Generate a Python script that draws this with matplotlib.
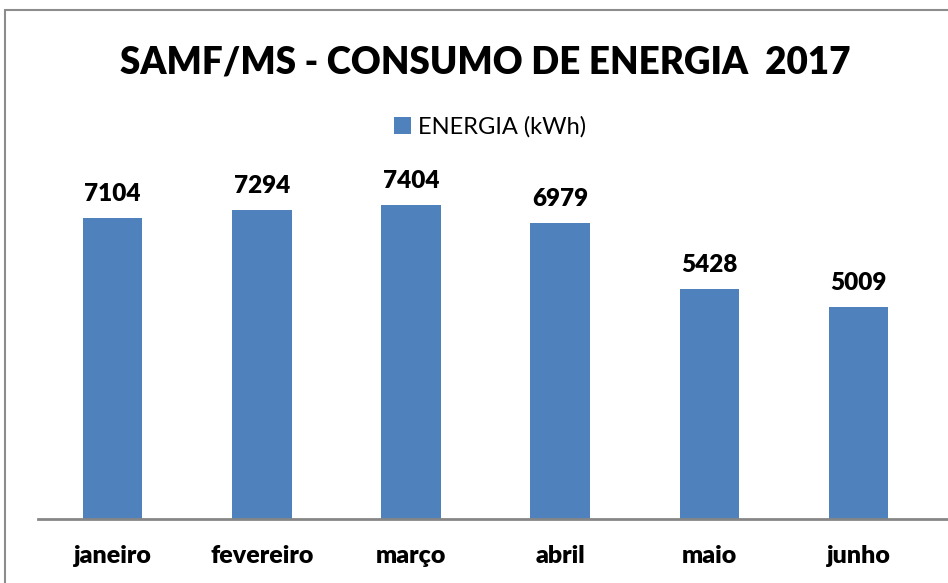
import matplotlib.pyplot as plt
from matplotlib.patches import Rectangle

meses = ['janeiro', 'fevereiro', 'março', 'abril', 'maio', 'junho']
energia = [7104, 7294, 7404, 6979, 5428, 5009]


def main():
    plt.rcParams['font.family'] = ['Lato', 'DejaVu Sans']
    fig = plt.figure(figsize=(9.48, 5.83), dpi=100)

    # grey frame, cropped on the right and bottom like the original
    fig.patches.append(Rectangle((5 / 948, -0.1), 1.2, (583 - 10) / 583 + 0.1,
                                 transform=fig.transFigure, fill=False,
                                 edgecolor='#8c8c8c', linewidth=1.5))

    ax = fig.add_axes([38 / 948, 0.1098, 0.96, 0.582])
    x = list(range(len(meses)))
    bars = ax.bar(x, energia, width=0.4, color='#4F81BD', label='ENERGIA (kWh)')

    for b, v in zip(bars, energia):
        ax.annotate(str(v), (b.get_x() + b.get_width() / 2, v), xytext=(0, 9),
                    textcoords='offset points', ha='center', va='bottom',
                    fontsize=17.5, fontweight='heavy')

    ax.set_xlim(-0.5, 5.6)
    ax.set_ylim(0, 8000)
    ax.set_xticks(x)
    ax.set_xticklabels(meses, fontsize=18, fontweight='heavy')
    ax.tick_params(axis='x', length=0, pad=19)
    ax.set_yticks([])
    for s in ['top', 'right', 'left']:
        ax.spines[s].set_visible(False)
    ax.spines['bottom'].set_color('#868686')
    ax.spines['bottom'].set_linewidth(2)

    fig.text(485 / 948, 1 - 62 / 583, 'SAMF/MS - CONSUMO DE ENERGIA  2017',
             ha='center', va='center', fontsize=26.5, fontweight='heavy')
    fig.legend(loc='center', bbox_to_anchor=(490 / 948, 1 - 127 / 583),
               frameon=False, fontsize=17, handlelength=0.75, handleheight=0.75,
               handletextpad=0.3)

    fig.savefig('out.png', dpi=100)


if __name__ == "__main__":
    main()
